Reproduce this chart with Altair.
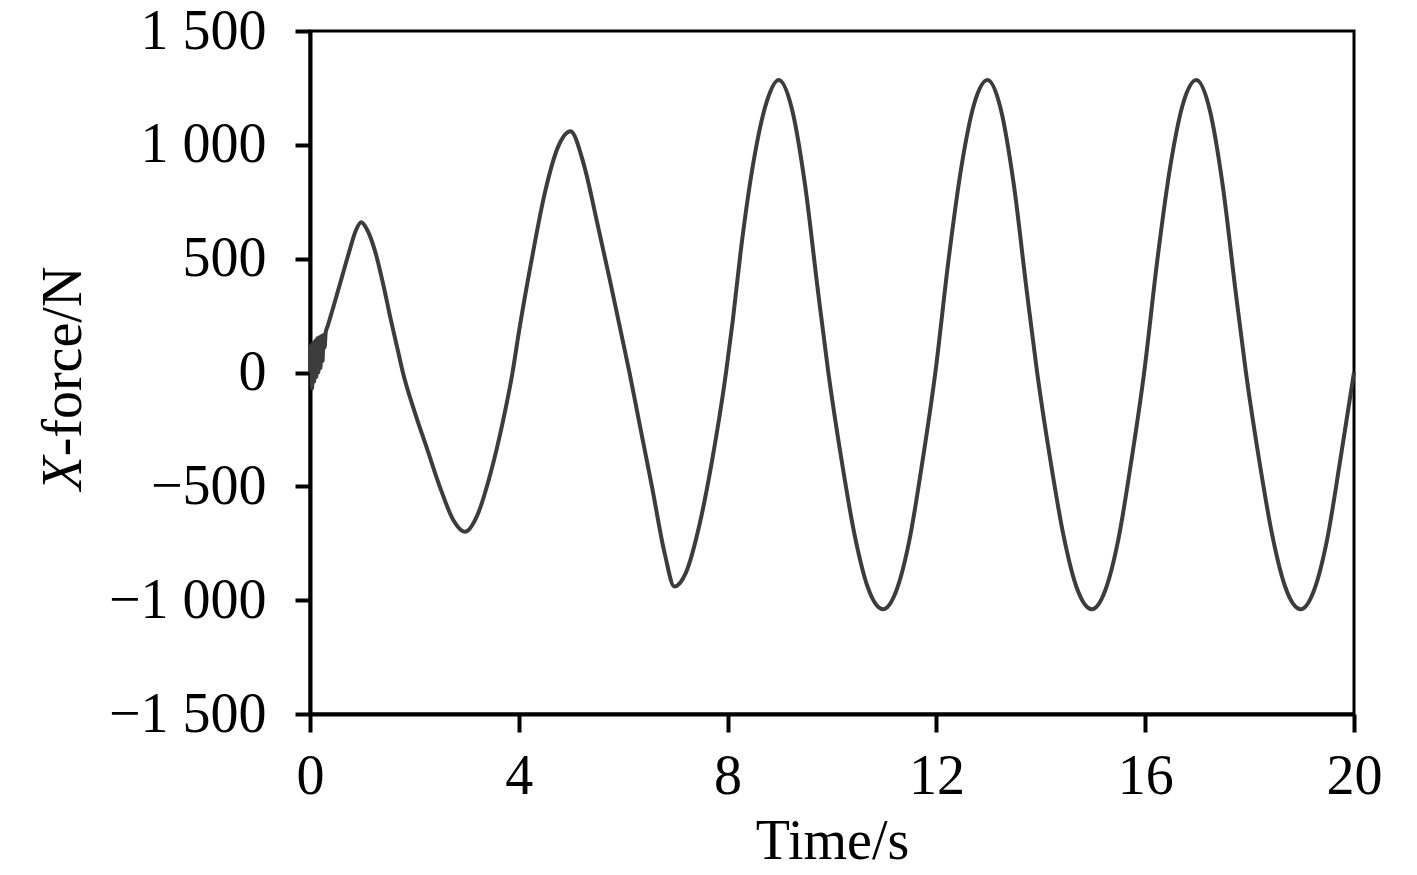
import altair as alt
import pandas as pd

# Time (s) and X-force (N)
time_s = [
    0.00, 0.02, 0.04, 0.06, 0.08, 0.10, 0.12, 0.14, 0.16, 0.18, 0.20, 0.22, 0.24, 0.26, 0.28, 0.30,
    0.34, 0.45, 0.60, 0.75, 0.88, 0.98, 1.10, 1.25, 1.40, 1.55, 1.70, 1.78,
    2.00, 2.25, 2.50, 2.75, 2.97, 3.20, 3.45, 3.70, 3.88,
    4.00, 4.25, 4.50, 4.75, 4.99, 5.25, 5.50, 5.75, 6.00, 6.12,
    6.30, 6.55, 6.80, 6.98, 7.20, 7.46, 7.70, 7.97,
    8.10, 8.25, 8.50, 8.75, 8.98, 9.23, 9.48, 9.73, 9.93,
    10.18, 10.43, 10.68, 10.98, 11.23, 11.48, 11.73, 11.98,
    12.23, 12.48, 12.73, 12.98, 13.23, 13.48, 13.73, 13.93,
    14.18, 14.43, 14.68, 14.98, 15.23, 15.48, 15.73, 15.98,
    16.23, 16.48, 16.73, 16.98, 17.23, 17.48, 17.73, 17.93,
    18.18, 18.43, 18.68, 18.98, 19.23, 19.48, 19.73, 20.00,
]
x_force = [
    0, 120, -70, 130, -40, 140, -20, 150, 0, 155, 20, 160, 50, 165, 110, 175,
    205, 290, 410, 530, 625, 660, 625, 530, 390, 230, 80, 0,
    -170, -340, -510, -650, -700, -630, -450, -210, 0,
    175, 500, 790, 990, 1060, 910, 660, 400, 130, 0,
    -210, -500, -800, -940, -880, -670, -390, 0,
    230, 530, 930, 1190, 1285, 1160, 830, 360, 0,
    -380, -710, -940, -1040, -960, -740, -395, 0,
    490, 905, 1185, 1285, 1160, 830, 360, 0,
    -380, -710, -940, -1040, -960, -740, -395, 0,
    490, 905, 1185, 1285, 1160, 830, 360, 0,
    -380, -710, -940, -1040, -960, -740, -395, 0,
]
x_ticks = [0, 4, 8, 12, 16, 20]
y_ticks = [-1500, -1000, -500, 0, 500, 1000, 1500]

df = pd.DataFrame({"t": time_s, "f": x_force})

FONT = "Liberation Serif"
x_scale = alt.Scale(domain=[0, 20], nice=False)
y_scale = alt.Scale(domain=[-1500, 1500], nice=False)

line = (
    alt.Chart(df)
    .mark_line(color="#3c3c3c", strokeWidth=4, interpolate="monotone")
    .encode(
        x=alt.X(
            "t:Q",
            scale=x_scale,
            axis=alt.Axis(
                values=x_ticks,
                title="Time/s",
                titleX=522,
                titleY=144,
                titleAlign="center",
                titleBaseline="alphabetic",
                tickSize=18,
                labelPadding=61,
                labelBaseline="alphabetic",
                labelFlush=False,
            ),
        ),
        y=alt.Y(
            "f:Q",
            scale=y_scale,
            axis=alt.Axis(
                values=y_ticks,
                title="-force/N",
                titleAngle=270,
                titleX=-230,
                titleY=330,
                titleAlign="center",
                titleBaseline="alphabetic",
                tickSize=15,
                labelPadding=29,
                labelAlign="right",
                labelBaseline="middle",
                labelFlush=False,
                labelExpr="replace(replace(format(datum.value, ','), ',', ' '), '-', '−')",
            ),
        ),
    )
)

# invisible twin layer that only carries the italic "X" of the y title
italic_x = (
    alt.Chart(df)
    .mark_line(opacity=0)
    .encode(
        x=alt.X("t:Q", scale=x_scale, axis=None),
        y=alt.Y(
            "f:Q",
            scale=y_scale,
            axis=alt.Axis(
                orient="left",
                title="X",
                titleFontStyle="italic",
                titleAngle=270,
                titleX=-230,
                titleY=442,
                titleAlign="center",
                titleBaseline="alphabetic",
                labels=False,
                ticks=False,
                domain=False,
                grid=False,
            ),
        ),
    )
)

chart = (
    alt.layer(line, italic_x)
    .resolve_axis(x="independent", y="independent")
    .properties(
        width=1044,
        height=683,
        padding={"left": 302, "top": 23, "right": 50, "bottom": 160},
        autosize=alt.AutoSizeParams(type="none"),
        background="white",
    )
    .configure_axis(
        grid=False,
        domainColor="black",
        domainWidth=4,
        tickColor="black",
        tickWidth=4,
        labelFont=FONT,
        labelFontSize=56,
        labelColor="black",
        titleFont=FONT,
        titleFontSize=56,
        titleFontWeight="normal",
        titleColor="black",
    )
    .configure_view(stroke="black", strokeWidth=3)
)

chart.save("out.html", embed_options={"renderer": "svg", "actions": False})
